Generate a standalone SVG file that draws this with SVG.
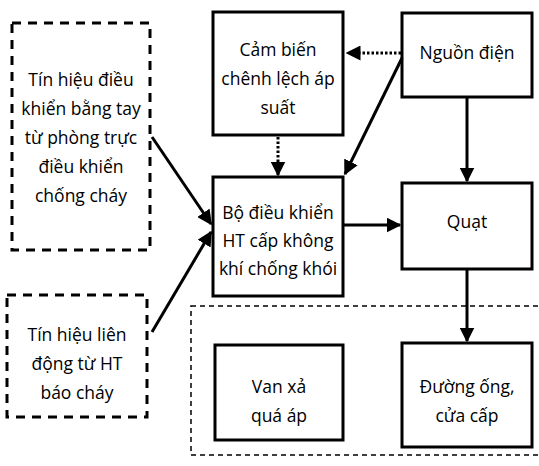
<svg xmlns="http://www.w3.org/2000/svg" width="539" height="466" viewBox="0 0 539 466">
<defs>
<style>
.box{fill:#fff;stroke:#000;stroke-width:3}
.dbox{fill:#fff;stroke:#000;stroke-width:3;stroke-dasharray:9 7}
.region{fill:none;stroke:#000;stroke-width:1.5;stroke-dasharray:5 4}
.t{font-family:"Open Sans","Liberation Sans",sans-serif;font-size:17.5px;text-anchor:middle;fill:#000}
.c{stroke:#000;stroke-width:3;fill:none}
.dot{stroke:#000;stroke-width:3;fill:none;stroke-dasharray:2.5 2}
</style>
<marker id="ah" viewBox="0 0 10 10" refX="9" refY="5" markerWidth="5" markerHeight="5" orient="auto" markerUnits="strokeWidth">
<path d="M0,0 L10,5 L0,10 Z" fill="#000"/>
</marker>
</defs>
<rect class="region" x="191" y="306" width="360" height="149"/>
<g id="n-manual">
<rect class="dbox" x="12" y="23" width="138" height="227"/>
<text class="t" x="81" y="86">Tín hiệu điều</text>
<text class="t" x="81" y="115">khiển bằng tay</text>
<text class="t" x="81" y="144">từ phòng trực</text>
<text class="t" x="81" y="173">điều khiển</text>
<text class="t" x="81" y="202">chống cháy</text>
</g>
<g id="n-alarm">
<rect class="dbox" x="7" y="295" width="140" height="122"/>
<text class="t" x="77" y="341">Tín hiệu liên</text>
<text class="t" x="77" y="370">động từ HT</text>
<text class="t" x="77" y="399">báo cháy</text>
</g>
<g id="n-sensor">
<rect class="box" x="213" y="12" width="130" height="123"/>
<text class="t" x="278" y="56">Cảm biến</text>
<text class="t" x="278" y="85">chênh lệch áp</text>
<text class="t" x="278" y="114">suất</text>
</g>
<g id="n-power">
<rect class="box" x="402" y="13" width="130" height="84"/>
<text class="t" x="467" y="59">Nguồn điện</text>
</g>
<g id="n-controller">
<rect class="box" x="213" y="177" width="130" height="119"/>
<text class="t" x="278" y="219">Bộ điều khiển</text>
<text class="t" x="278" y="247">HT cấp không</text>
<text class="t" x="278" y="275">khí chống khói</text>
</g>
<g id="n-fan">
<rect class="box" x="402" y="183" width="130" height="86"/>
<text class="t" x="467" y="228">Quạt</text>
</g>
<g id="n-valve">
<rect class="box" x="215" y="345" width="128" height="95"/>
<text class="t" x="279" y="393">Van xả</text>
<text class="t" x="279" y="422">quá áp</text>
</g>
<g id="n-duct">
<rect class="box" x="402" y="343" width="130" height="104"/>
<text class="t" x="467" y="393">Đường ống,</text>
<text class="t" x="467" y="422">cửa cấp</text>
</g>
<g id="connectors">
<line class="dot" x1="401" y1="53" x2="347" y2="53" marker-end="url(#ah)"/>
<line class="c" x1="402" y1="58" x2="345" y2="174" marker-end="url(#ah)"/>
<line class="c" x1="467" y1="97" x2="467" y2="181" marker-end="url(#ah)"/>
<line class="dot" x1="278" y1="137" x2="278" y2="175" marker-end="url(#ah)"/>
<line class="c" x1="152" y1="137" x2="211" y2="224" marker-end="url(#ah)"/>
<line class="c" x1="152" y1="332" x2="211" y2="232" marker-end="url(#ah)"/>
<line class="c" x1="343" y1="225" x2="400" y2="225" marker-end="url(#ah)"/>
<line class="c" x1="467" y1="269" x2="467" y2="341" marker-end="url(#ah)"/>
</g>
</svg>
